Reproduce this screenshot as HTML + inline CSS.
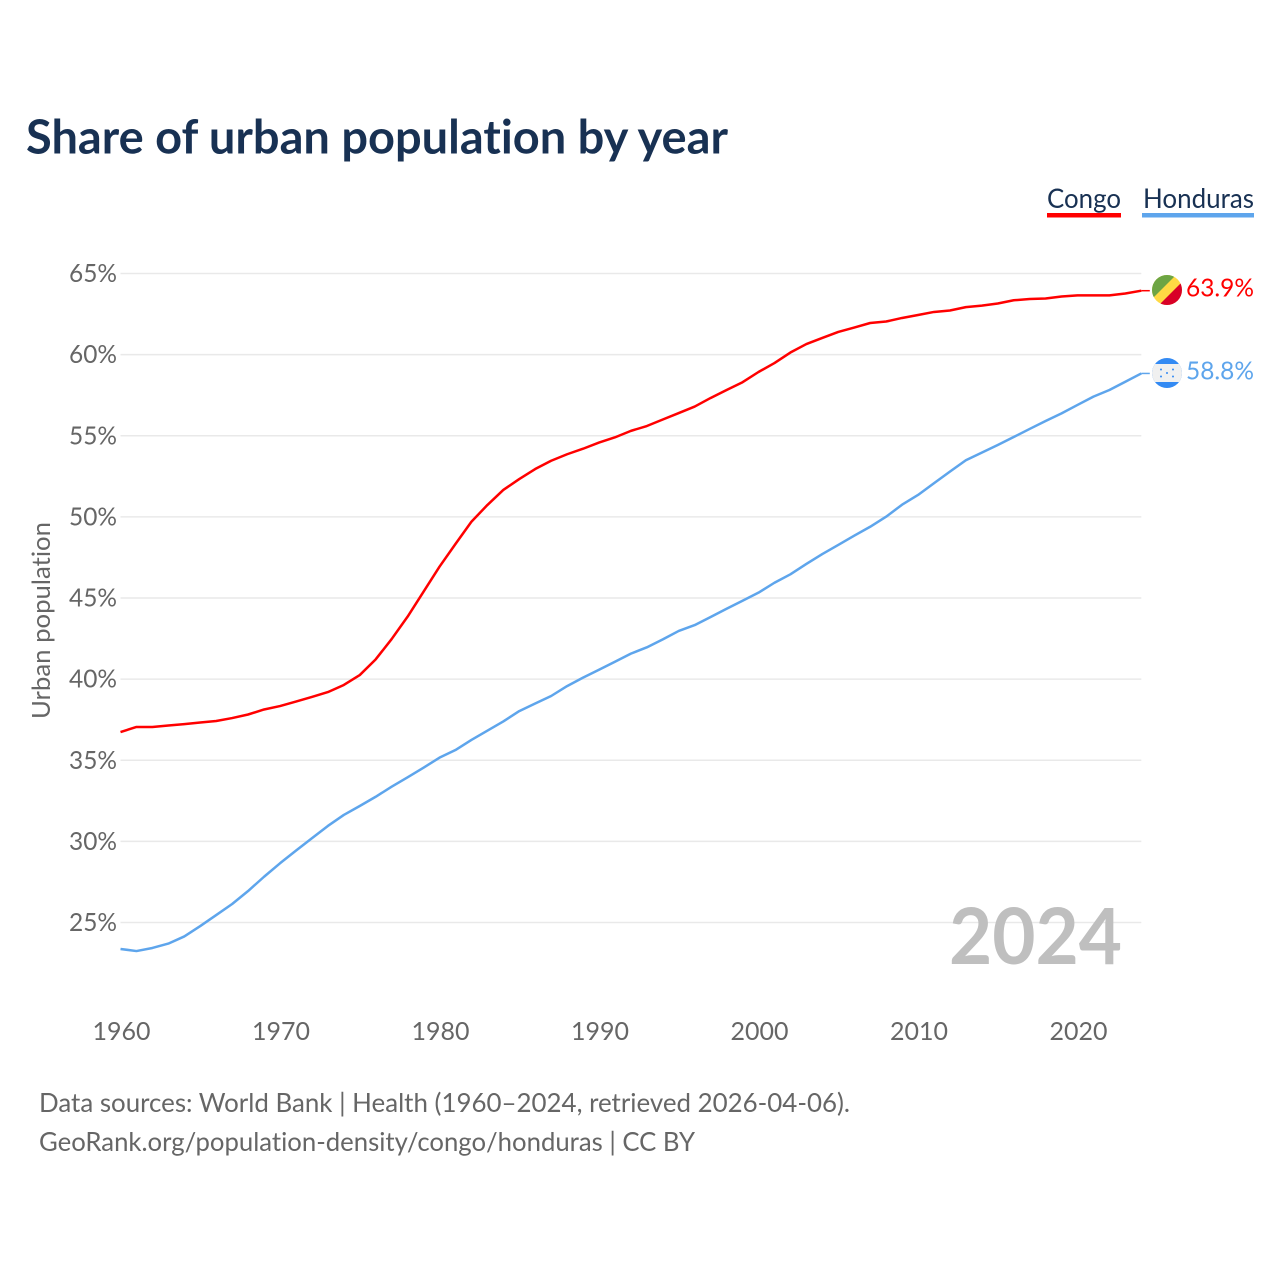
<!DOCTYPE html>
<html lang="en">
<head>
<meta charset="utf-8">
<title>Share of urban population by year</title>
<style>
html,body{margin:0;padding:0;background:#fff;}
svg{display:block;}
text{font-family:"Lato","Carlito","Liberation Sans",sans-serif;font-variant-ligatures:none;}
</style>
</head>
<body>
<svg id="chart" width="1280" height="1280" viewBox="0 0 1280 1280" xmlns="http://www.w3.org/2000/svg">
  <defs>
    <clipPath id="clip-congo"><circle cx="1167" cy="290" r="15"/></clipPath>
    <clipPath id="clip-honduras"><circle cx="1167" cy="373" r="15"/></clipPath>
  </defs>
  <text x="26" y="153.5" font-size="46.5" font-weight="700" fill="#183153" textLength="702" lengthAdjust="spacingAndGlyphs">Share of urban population by year</text>

  <g>
    <g>
      <text x="1047" y="208" font-size="27.5" fill="#183153" textLength="74" lengthAdjust="spacingAndGlyphs">Congo</text>
      <rect x="1047" y="213" width="74" height="4.5" fill="#ff0000"/>
    </g>
    <g>
      <text x="1143" y="208" font-size="27.5" fill="#183153" textLength="111" lengthAdjust="spacingAndGlyphs">Honduras</text>
      <rect x="1142" y="213" width="112" height="4.5" fill="#5ea5ec"/>
    </g>
  </g>

  <g id="grid"></g>
  <g id="y-ticks"></g>
  <g id="x-ticks"></g>

  <text transform="translate(50,620.5) rotate(-90)" text-anchor="middle" font-size="25.5" fill="#666666" textLength="197" lengthAdjust="spacingAndGlyphs">Urban population</text>

  <text x="949" y="964" font-size="78" font-weight="700" fill="#bfbfbf" textLength="173" lengthAdjust="spacingAndGlyphs">2024</text>

  <g id="series"></g>

  <g clip-path="url(#clip-congo)">
    <rect x="1152" y="275" width="30" height="30" fill="#ffda44"/>
    <polygon points="1152,275 1176,275 1152,299" fill="#6da544"/>
    <polygon points="1182,282 1182,305 1159,305" fill="#d80027"/>
  </g>
  <g clip-path="url(#clip-honduras)">
    <rect x="1152" y="358" width="30" height="30" fill="#338af3"/>
    <rect x="1152" y="364" width="30" height="18" fill="#f0f0f0"/>
    <g fill="#338af3">
      <circle cx="1161" cy="369.5" r="1"/><circle cx="1173" cy="369.5" r="1"/>
      <circle cx="1167" cy="373" r="1"/>
      <circle cx="1161" cy="376.5" r="1"/><circle cx="1173" cy="376.5" r="1"/>
    </g>
  </g>

  <g id="end-labels"></g>

  <text x="39" y="1112" font-size="26.5" fill="#666666" textLength="811" lengthAdjust="spacingAndGlyphs">Data sources: World Bank | Health (1960–2024, retrieved 2026-04-06).</text>
  <text x="39" y="1151" font-size="26.5" fill="#666666" textLength="656" lengthAdjust="spacingAndGlyphs">GeoRank.org/population-density/congo/honduras | CC BY</text>
</svg>
<script>
const years = [1960,1961,1962,1963,1964,1965,1966,1967,1968,1969,1970,1971,1972,1973,1974,1975,1976,1977,1978,1979,1980,1981,1982,1983,1984,1985,1986,1987,1988,1989,1990,1991,1992,1993,1994,1995,1996,1997,1998,1999,2000,2001,2002,2003,2004,2005,2006,2007,2008,2009,2010,2011,2012,2013,2014,2015,2016,2017,2018,2019,2020,2021,2022,2023,2024];
const congoValues = [36.74,37.05,37.05,37.14,37.23,37.33,37.42,37.6,37.82,38.13,38.34,38.62,38.9,39.2,39.64,40.25,41.22,42.47,43.85,45.39,46.93,48.33,49.7,50.73,51.66,52.33,52.95,53.46,53.86,54.2,54.58,54.9,55.3,55.6,56.0,56.4,56.8,57.33,57.82,58.3,58.93,59.48,60.13,60.65,61.03,61.4,61.67,61.95,62.04,62.26,62.44,62.63,62.72,62.93,63.02,63.15,63.35,63.43,63.46,63.58,63.65,63.65,63.65,63.77,63.94];
const hondurasValues = [23.37,23.24,23.43,23.7,24.14,24.78,25.46,26.14,26.94,27.82,28.65,29.43,30.19,30.95,31.63,32.18,32.75,33.37,33.95,34.54,35.16,35.63,36.25,36.82,37.39,38.03,38.5,38.96,39.57,40.09,40.58,41.07,41.57,41.96,42.45,42.97,43.33,43.83,44.34,44.83,45.33,45.94,46.46,47.1,47.71,48.27,48.84,49.39,50.01,50.75,51.35,52.07,52.79,53.49,53.96,54.43,54.92,55.42,55.91,56.38,56.9,57.41,57.82,58.33,58.84];
const yTickValues = [25,30,35,40,45,50,55,60,65];
const xTickValues = [1960,1970,1980,1990,2000,2010,2020];

const NS = 'http://www.w3.org/2000/svg';
function xScale(year){ return 120.5 + (year - 1960) * 15.95; }
function yScale(v){ return 922.5 - (v - 25) * 16.225; }
function make(tag, attrs, parent){
  const el = document.createElementNS(NS, tag);
  for (const k in attrs) el.setAttribute(k, attrs[k]);
  parent.appendChild(el);
  return el;
}
const gridG = document.getElementById('grid');
const yG = document.getElementById('y-ticks');
const xG = document.getElementById('x-ticks');
const seriesG = document.getElementById('series');
const endG = document.getElementById('end-labels');
const lastX = xScale(years[years.length - 1]);

yTickValues.forEach(function(v){
  const line = make('line', {x1: xScale(1960), x2: lastX, y1: yScale(v), y2: yScale(v), stroke: '#e9e9e9', 'stroke-width': 1.5}, gridG);
  
  
  const t = make('text', {x: 117, y: yScale(v) + 8.5, 'text-anchor': 'end', 'font-size': 25.5, fill: '#666666', textLength: 48, lengthAdjust: 'spacingAndGlyphs'}, yG);
  
  
  t.textContent = v + '%';
});

xTickValues.forEach(function(y){
  const t = make('text', {x: xScale(y) + 1, y: 1040, 'text-anchor': 'middle', 'font-size': 25.5, fill: '#666666', textLength: 58, lengthAdjust: 'spacingAndGlyphs'}, xG);
  
  
  t.textContent = y;
});

function drawSeries(name, values, color){
  const pts = values.map(function(v, i){ return xScale(years[i]).toFixed(2) + ',' + yScale(v).toFixed(2); });
  const last = values[values.length - 1];
  const line = make('polyline', {points: pts.join(' '), fill: 'none', stroke: color, 'stroke-width': 2.5, 'stroke-linejoin': 'round'}, seriesG);
  
  
  const stub = make('line', {x1: lastX, x2: lastX + 8.5, y1: yScale(last), y2: yScale(last), stroke: color, 'stroke-width': 1.5}, seriesG);
  
  
  const label = make('text', {x: 1186, y: yScale(last) + 6, 'font-size': 25.5, fill: color, textLength: 68, lengthAdjust: 'spacingAndGlyphs'}, endG);
  
  
  label.textContent = last.toFixed(1) + '%';
}
drawSeries('congo', congoValues, '#ff0000');
drawSeries('honduras', hondurasValues, '#5ea5ec');
</script>
</body>
</html>
